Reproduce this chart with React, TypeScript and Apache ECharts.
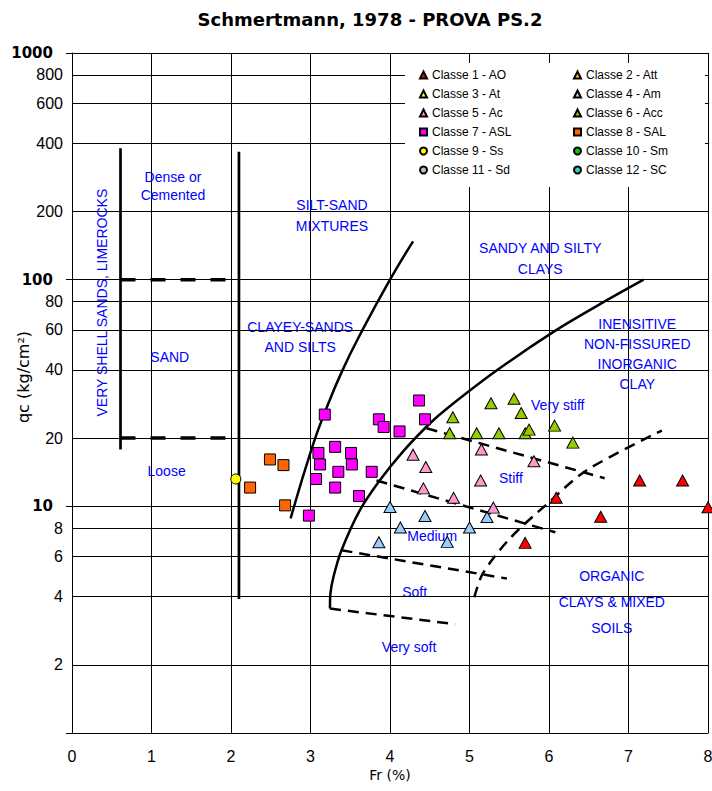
import React, { useEffect, useRef } from 'react';
import * as echarts from 'echarts';

const chartTitle = 'Schmertmann, 1978 - PROVA PS.2';
const xAxisName = 'Fr (%)';
const yAxisName = 'qc (kg/cm\u00B2)';
const xMin = 0;
const xMax = 8;
const yMin = 1;
const yMax = 1000;
const yBoldLabels = [10, 100, 1000];
const yMinorLines = [2, 4, 6, 8, 20, 40, 60, 80, 200, 400, 600, 800];

const classNames = [
  'Classe 1 - AO', 'Classe 2 - Att', 'Classe 3 - At', 'Classe 4 - Am',
  'Classe 5 - Ac', 'Classe 6 - Acc', 'Classe 7 - ASL', 'Classe 8 - SAL',
  'Classe 9 - Ss', 'Classe 10 - Sm', 'Classe 11 - Sd', 'Classe 12 - SC',
];
const classColors = [
  '#FF0000', '#FFCC00', '#FFFF00', '#99CCFF',
  '#FF99CC', '#99CC00', '#FF00FF', '#FF6600',
  '#FFFF00', '#00CC00', '#C0C0C0', '#33CCCC',
];
const classSymbols = [
  'triangle', 'triangle', 'triangle', 'triangle',
  'triangle', 'triangle', 'rect', 'rect',
  'circle', 'circle', 'circle', 'circle',
];

// measured points [Fr %, qc]
const classe1AO = [[6.09, 10.9], [7.14, 13.0], [7.68, 13.0], [8.0, 9.9], [6.65, 9.0], [5.70, 6.9]];
const classe2Att: number[][] = [];
const classe3At: number[][] = [];
const classe4Am = [[4.0, 9.93], [4.44, 9.06], [4.13, 8.06], [3.86, 6.94], [4.72, 6.97], [5.0, 8.06], [5.22, 8.97]];
const classe5Ac = [[4.29, 16.9], [4.45, 14.9], [4.42, 12.0], [4.80, 10.9], [5.15, 17.8], [5.14, 13.0], [5.30, 9.87], [5.81, 15.8]];
const classe6Acc = [[4.79, 24.7], [5.27, 28.5], [5.56, 29.8], [5.65, 25.8], [4.75, 21.0], [5.09, 21.0], [5.37, 21.0], [5.70, 21.0], [5.75, 21.8], [6.07, 22.7], [6.30, 19.1]];
const classe7ASL = [[3.18, 25.4], [4.365, 29.3], [3.86, 24.2], [3.92, 22.4], [4.44, 24.2], [4.12, 21.4], [3.10, 17.2], [3.31, 18.3], [3.51, 17.2], [3.12, 15.3], [3.52, 15.3], [3.35, 14.2], [3.77, 14.2], [3.07, 13.2], [3.31, 12.1], [3.61, 11.1], [2.98, 9.1]];
const classe8SAL = [[2.49, 16.1], [2.66, 15.2], [2.24, 12.1], [2.68, 10.1]];
const classe9Ss = [[2.06, 13.2]];
const classe10Sm: number[][] = [];
const classe11Sd: number[][] = [];
const classe12SC: number[][] = [];
const classData = [classe1AO, classe2Att, classe3At, classe4Am, classe5Ac, classe6Acc, classe7ASL, classe8SAL, classe9Ss, classe10Sm, classe11Sd, classe12SC];

// Schmertmann chart boundaries
const sandLeftLine = [[0.61, 380], [0.61, 17.8]];
const sandRightLine = [[2.10, 367], [2.10, 3.9]];
const sandDenseLine = [[0.61, 100], [2.10, 100]];
const sandLooseLine = [[0.61, 20], [2.10, 20]];
const siltSandCurve = [[2.75, 8.85], [3.02, 18.2], [3.175, 25.7], [3.40, 39.7], [3.65, 59.6], [4.0, 100], [4.29, 147.5]];
const sandyClayCurve = [[3.245, 3.54], [3.25, 4.1], [3.29, 4.9], [3.39, 6.4], [3.62, 9.6], [3.87, 13.0], [4.16, 17.4], [4.50, 23.2], [4.71, 26.9], [5.34, 39.7], [6.08, 59.6], [6.68, 79.4], [7.19, 100]];
const veryStiffStiffLine = [[4.46, 22.1], [6.70, 13.3]];
const stiffMediumLine = [[3.83, 13.0], [6.08, 7.68]];
const mediumSoftLine = [[3.39, 6.4], [5.47, 4.8]];
const softVerySoftLine = [[3.245, 3.54], [4.82, 3.02]];
const organicLine = [[5.06, 3.97], [5.17, 5.07], [5.51, 7.23], [5.97, 10.2], [6.47, 14.4], [7.42, 21.6]];

// zone labels [Fr, qc, text, lineHeight, rotate]
const zoneLabels: [number, number, string, number, number][] = [
  [1.27, 259, 'Dense or\nCemented', 18, 0],
  [1.23, 45.8, 'SAND', 16, 0],
  [1.19, 14.3, 'Loose', 16, 0],
  [0.38, 79.2, 'VERY SHELL SANDS, LIMEROCKS', 16, 90],
  [3.27, 191, 'SILT-SAND\nMIXTURES', 21, 0],
  [5.89, 124, 'SANDY AND SILTY\nCLAYS', 21, 0],
  [2.87, 56.1, 'CLAYEY-SANDS\nAND SILTS', 20, 0],
  [7.11, 47.2, 'INENSITIVE\nNON-FISSURED\nINORGANIC\nCLAY', 20, 0],
  [6.11, 27.9, 'Very stiff', 16, 0],
  [5.52, 13.3, 'Stiff', 16, 0],
  [4.53, 7.38, 'Medium', 16, 0],
  [4.31, 4.18, 'Soft', 16, 0],
  [4.24, 2.39, 'Very soft', 16, 0],
  [6.79, 3.78, 'ORGANIC\nCLAYS & MIXED\nSOILS', 26, 0],
];

const FONT = 'Liberation Sans, Arial, sans-serif';
const WIDE = 'DejaVu Sans, sans-serif';

export default function App() {
  const ref = useRef<HTMLDivElement>(null);
  useEffect(() => {
    if (!ref.current) return;
    const chart = echarts.init(ref.current, undefined, { renderer: 'svg' });

    const solid = (name: string, data: number[][], width: number, smooth: boolean | number) => ({
      name, type: 'line', data, symbol: 'none', smooth, z: 3, silent: true,
      lineStyle: { color: '#000', width, type: 'solid' },
    });
    const dashed = (name: string, data: number[][], width: number, dash: number[], smooth: boolean | number) => ({
      name, type: 'line', data, symbol: 'none', smooth, z: 3, silent: true,
      lineStyle: { color: '#000', width, type: dash },
    });

    const classSeries = classNames.map((name, i) => ({
      name,
      type: 'scatter',
      data: classData[i],
      symbol: classSymbols[i],
      symbolSize: classSymbols[i] === 'triangle' ? [12, 11] : classSymbols[i] === 'rect' ? 11 : 10,
      z: 5,
      itemStyle: { color: classColors[i], borderColor: '#000', borderWidth: 1, opacity: 1 },
    }));

    const option: any = {
      animation: false,
      textStyle: { fontFamily: FONT },
      title: {
        text: chartTitle,
        left: 365,
        textAlign: 'center',
        top: 5,
        textStyle: { fontSize: 18, fontWeight: 'bold', color: '#000', fontFamily: WIDE },
      },
      grid: { left: 72, right: 4, top: 53, bottom: 58, containLabel: false, outerBoundsMode: 'none' },
      xAxis: {
        type: 'value', min: xMin, max: xMax, interval: 1,
        name: xAxisName, nameLocation: 'middle', nameGap: 35, nameMoveOverlap: false,
        nameTextStyle: { fontSize: 14, color: '#000', fontFamily: WIDE },
        axisLine: { show: true, lineStyle: { color: '#000', width: 1 } },
        axisTick: { show: false },
        axisLabel: { fontSize: 16, color: '#000', margin: 15 },
        splitLine: { show: true, lineStyle: { color: '#000', width: 1 } },
      },
      yAxis: {
        type: 'log', logBase: 10, min: yMin, max: yMax,
        name: yAxisName, nameLocation: 'middle', nameGap: 41, nameMoveOverlap: false,
        nameTextStyle: { fontSize: 16, color: '#000', fontFamily: WIDE, padding: [0, 0, 0, 32] },
        axisLine: { show: true, lineStyle: { color: '#000', width: 1 } },
        axisTick: { show: true, length: 6, lineStyle: { color: '#000', width: 1 } },
        axisLabel: {
          fontSize: 16, color: '#000', margin: 9,
          formatter: (v: number) => (yBoldLabels.includes(v) ? `{b|${v}}` : ''),
          rich: { b: { fontSize: 15, fontWeight: 'bold', color: '#000', fontFamily: WIDE, padding: [0, 10, 0, 0] } },
        },
        splitLine: { show: true, lineStyle: { color: '#000', width: 1 } },
      },
      legend: [
        {
          data: classNames.filter((_, i) => i % 2 === 0),
          orient: 'vertical', left: 419, top: 68, padding: 0,
          itemWidth: 7, itemHeight: 7, itemGap: 5, z: 10,
          textStyle: { fontSize: 12, color: '#000', lineHeight: 14, fontFamily: FONT },
          selectedMode: false,
        },
        {
          data: classNames.filter((_, i) => i % 2 === 1),
          orient: 'vertical', left: 573, top: 68, padding: 0,
          itemWidth: 7, itemHeight: 7, itemGap: 5, z: 10,
          textStyle: { fontSize: 12, color: '#000', lineHeight: 14, fontFamily: FONT },
          selectedMode: false,
        },
      ],
      graphic: [
        {
          type: 'rect', left: 405, top: 63, z: 6, silent: true,
          shape: { width: 300, height: 124 },
          style: { fill: '#fff' },
        },
      ],
      series: [
        {
          name: 'grid-minor', type: 'line', data: [], silent: true, z: 1,
          markLine: {
            silent: true, symbol: ['none', 'none'], animation: false,
            lineStyle: { color: '#000', width: 1, type: 'solid' },
            label: {
              show: true, position: 'start', distance: 9, fontSize: 16, color: '#000', fontFamily: FONT,
              formatter: (p: any) => String(p.value),
            },
            emphasis: { disabled: true },
            data: yMinorLines.map((v) => ({ yAxis: v })),
          },
        },
        solid('sand-left', sandLeftLine, 2.7, false),
        solid('sand-right', sandRightLine, 2.7, false),
        dashed('sand-dense', sandDenseLine, 3.5, [15, 15], false),
        dashed('sand-loose', sandLooseLine, 3.5, [15, 15], false),
        solid('silt-sand', siltSandCurve, 2.5, 0.5),
        solid('sandy-clay', sandyClayCurve, 2.5, 0.3),
        dashed('very-stiff', veryStiffStiffLine, 2.5, [11, 7], false),
        dashed('stiff', stiffMediumLine, 2.5, [11, 7], false),
        dashed('medium', mediumSoftLine, 2.5, [11, 7], false),
        dashed('soft', softVerySoftLine, 2.5, [11, 7], false),
        dashed('organic', organicLine, 2.5, [11, 7], 0.3),
        {
          name: 'zones', type: 'scatter', silent: true, z: 4,
          symbolSize: 1, itemStyle: { color: 'rgba(0,0,0,0)' },
          data: zoneLabels.map(([x, y, t, lh, rot]) => ({
            value: [x, y], name: t,
            label: { rotate: rot, lineHeight: lh },
          })),
          label: {
            show: true, position: 'inside', color: '#0000FF', fontSize: 14, fontFamily: FONT,
            align: 'center', verticalAlign: 'middle', opacity: 1,
            textBorderWidth: 0, textBorderColor: 'transparent',
            formatter: (p: any) => p.name,
          },
          labelLayout: { hideOverlap: false },
        },
        ...classSeries,
      ],
    };
    chart.setOption(option);
    return () => chart.dispose();
  }, []);
  return <div ref={ref} style={{ position: 'absolute', left: 0, top: 0, width: 712, height: 791 }} />;
}
